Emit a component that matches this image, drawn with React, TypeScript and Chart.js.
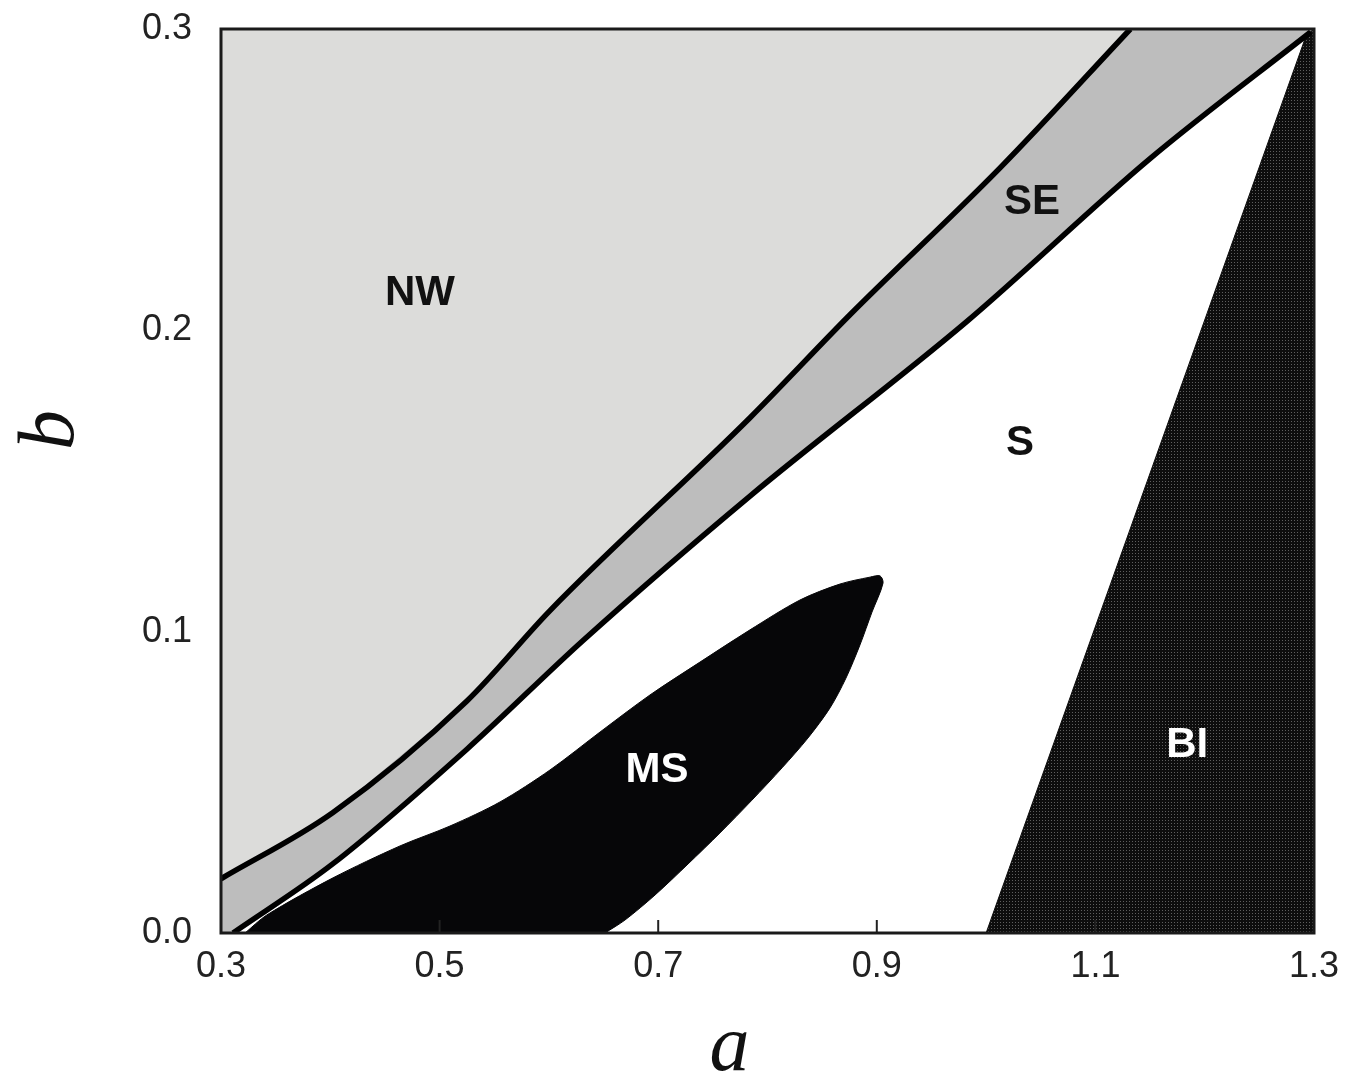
import React, { useEffect, useRef } from 'react';
import { Chart, registerables } from 'chart.js';

Chart.register(...registerables);

// Axis ranges and ticks
const xMin = 0.3;
const xMax = 1.3;
const yMin = 0.0;
const yMax = 0.3;
const xTicks = [0.3, 0.5, 0.7, 0.9, 1.1, 1.3];
const xTickLabels = ['0.3', '0.5', '0.7', '0.9', '1.1', '1.3'];
const yTicks = [0.0, 0.1, 0.2, 0.3];
const yTickLabels = ['0.0', '0.1', '0.2', '0.3'];

// Upper boundary (NW / SE)
const upperA = [0.3, 0.4025, 0.525, 0.601, 0.784, 0.875, 1.013, 1.132];
const upperB = [0.018, 0.040, 0.077, 0.107, 0.171, 0.205, 0.254, 0.300];

// Lower boundary (SE / S)
const lowerA = [0.311, 0.4025, 0.525, 0.631, 0.784, 0.9825, 1.15, 1.297];
const lowerB = [0.0, 0.023, 0.061, 0.097, 0.145, 0.203, 0.257, 0.299];

// MS region: upper edge (left to tip) and lower edge (bottom to tip)
const msTopA = [0.322, 0.342, 0.4025, 0.4638, 0.5095, 0.5553, 0.601, 0.6468, 0.6925, 0.7382, 0.784, 0.8297, 0.8663, 0.8938, 0.903];
const msTopB = [0.0, 0.006, 0.0183, 0.0289, 0.0355, 0.0435, 0.0541, 0.0667, 0.079, 0.0899, 0.1006, 0.1105, 0.1158, 0.1181, 0.1185];
const msBottomA = [0.6513, 0.6696, 0.6971, 0.7273, 0.7565, 0.7858, 0.8133, 0.837, 0.8572, 0.8718, 0.8846, 0.8956, 0.9057];
const msBottomB = [0.0, 0.0043, 0.0126, 0.0229, 0.0332, 0.0441, 0.0548, 0.0647, 0.0747, 0.0846, 0.0956, 0.1065, 0.1161];

// BI region
const biA = [1.0, 1.293, 1.3, 1.3];
const biB = [0.0, 0.298, 0.3, 0.0];

// Region labels
const labelText = ['NW', 'SE', 'S', 'MS', 'BI'];
const labelA = [0.482, 1.042, 1.031, 0.699, 1.184];
const labelB = [0.2124, 0.2426, 0.1626, 0.0541, 0.0624];
const labelColor = ['#111111', '#111111', '#111111', '#ffffff', '#ffffff'];

const xTitle = 'a';
const yTitle = 'b';

const pts = (a: number[], b: number[]) => a.map((x, i) => ({ x, y: b[i] }));

export default function App() {
  const ref = useRef<HTMLCanvasElement | null>(null);

  useEffect(() => {
    const canvas = ref.current;
    if (!canvas) return;
    const ctx = canvas.getContext('2d')!;

    const pc = document.createElement('canvas');
    pc.width = 3;
    pc.height = 3;
    const pctx = pc.getContext('2d')!;
    pctx.fillStyle = '#0d0d0d';
    pctx.fillRect(0, 0, 3, 3);
    pctx.fillStyle = '#5e5e5e';
    pctx.fillRect(1, 1, 1, 1);
    const biPattern = ctx.createPattern(pc, 'repeat') as any;

    const upper = pts(upperA, upperB);
    const lower = pts(lowerA, lowerB);
    const nwPoly = [{ x: xMin, y: yMax }, ...upper];
    const sePoly = [{ x: xMin, y: yMin }, ...upper, { x: xMax, y: yMax }, ...lower.slice().reverse()];
    const msPoly = [...pts(msTopA, msTopB), ...pts(msBottomA, msBottomB).reverse()];
    const biPoly = pts(biA, biB);

    const NW = '#dcdcda';
    const SE = '#bdbdbd';
    const MS = '#060608';

    const overlay = {
      id: 'overlay',
      afterDatasetsDraw(chart: any) {
        const c = chart.ctx;
        const xs = chart.scales.x;
        const ys = chart.scales.y;
        const area = chart.chartArea;
        c.save();
        c.font = 'bold 42px "Liberation Sans", Arial, sans-serif';
        c.textAlign = 'center';
        c.textBaseline = 'middle';
        labelText.forEach((t, i) => {
          c.fillStyle = labelColor[i];
          c.fillText(t, xs.getPixelForValue(labelA[i]), ys.getPixelForValue(labelB[i]));
        });
        c.strokeStyle = '#222';
        c.lineWidth = 2;
        xTicks.forEach((v) => {
          const px = xs.getPixelForValue(v);
          c.beginPath();
          c.moveTo(px, area.bottom);
          c.lineTo(px, area.bottom - 13);
          c.stroke();
        });
        c.lineWidth = 3;
        c.strokeStyle = '#1a1a1a';
        c.strokeRect(area.left, area.top, area.right - area.left, area.bottom - area.top);
        c.restore();
      },
      afterDraw(chart: any) {
        const c = chart.ctx;
        const area = chart.chartArea;
        c.save();
        c.fillStyle = '#111';
        c.font = 'italic 80px "Liberation Serif", "Times New Roman", serif';
        c.textAlign = 'center';
        c.textBaseline = 'alphabetic';
        c.fillText(xTitle, (area.left + area.right) / 2 - 38, area.bottom + 137);
        c.translate(area.left - 148, (area.top + area.bottom) / 2 - 51);
        c.rotate(-Math.PI / 2);
        c.fillText(yTitle, 0, 0);
        c.restore();
      },
    };

    const chart = new Chart(ctx, {
      type: 'line',
      data: {
        datasets: [
          { data: upper, borderColor: '#000', borderWidth: 5.5, pointRadius: 0, fill: false, cubicInterpolationMode: 'monotone', order: 0 },
          { data: lower, borderColor: '#000', borderWidth: 5.5, pointRadius: 0, fill: false, cubicInterpolationMode: 'monotone', order: 0 },
          { data: msPoly, borderColor: MS, backgroundColor: MS, borderWidth: 1, pointRadius: 0, fill: 'shape', tension: 0.3, order: 1 },
          { data: biPoly, borderColor: '#0d0d0d', backgroundColor: biPattern, borderWidth: 1, pointRadius: 0, fill: 'shape', tension: 0, order: 1 },
          { data: sePoly, borderColor: SE, backgroundColor: SE, borderWidth: 1, pointRadius: 0, fill: 'shape', tension: 0, order: 2 },
          { data: nwPoly, borderColor: NW, backgroundColor: NW, borderWidth: 1, pointRadius: 0, fill: 'shape', tension: 0, order: 2 },
        ] as any,
      },
      options: {
        animation: false,
        responsive: false,
        devicePixelRatio: 1,
        layout: { padding: { left: 0, top: 29, right: 47, bottom: 0 } },
        plugins: { legend: { display: false }, tooltip: { enabled: false } },
        scales: {
          x: {
            type: 'linear',
            min: xMin,
            max: xMax,
            afterBuildTicks: (s: any) => { s.ticks = xTicks.map((v) => ({ value: v })); },
            afterFit: (s: any) => { s.height = 144; s.paddingLeft = 0; s.paddingRight = 0; },
            ticks: {
              callback: (v: any) => { const i = xTicks.findIndex((t) => Math.abs(t - v) < 1e-9); return i >= 0 ? xTickLabels[i] : ''; },
              color: '#222',
              font: { size: 36, family: '"Liberation Sans", Arial, sans-serif' },
              padding: 12,
              maxRotation: 0,
              autoSkip: false,
            },
            grid: { display: false, drawTicks: false },
            border: { display: false },
          },
          y: {
            type: 'linear',
            min: yMin,
            max: yMax,
            afterBuildTicks: (s: any) => { s.ticks = yTicks.map((v) => ({ value: v })); },
            afterFit: (s: any) => { s.width = 221; s.paddingTop = 0; s.paddingBottom = 0; },
            ticks: {
              callback: (v: any) => { const i = yTicks.findIndex((t) => Math.abs(t - v) < 1e-9); return i >= 0 ? yTickLabels[i] : ''; },
              color: '#222',
              font: { size: 36, family: '"Liberation Sans", Arial, sans-serif' },
              padding: 29,
              autoSkip: false,
            },
            grid: { display: false, drawTicks: false },
            border: { display: false },
          },
        },
      } as any,
      plugins: [overlay],
    });

    return () => chart.destroy();
  }, []);

  return (
    <div style={{ position: 'absolute', left: 0, top: 0, width: 1361, height: 1077, background: '#fff' }}>
      <canvas ref={ref} width={1361} height={1077} style={{ display: 'block' }} />
    </div>
  );
}
